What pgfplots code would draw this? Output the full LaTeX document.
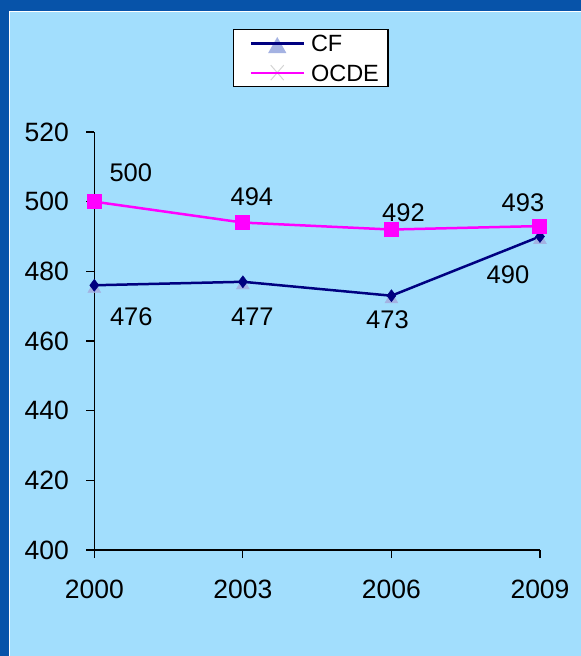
\documentclass[border=0pt]{standalone}
\usepackage{fontspec}
\setmainfont{Liberation Sans}
\usepackage{pgfplots}
\pgfplotsset{compat=1.18}
\definecolor{bgdark}{HTML}{0753A9}
\definecolor{panel}{HTML}{A2DEFD}
\definecolor{cfnavy}{HTML}{000080}
\definecolor{ocdemag}{HTML}{FF00FF}
\definecolor{trilight}{HTML}{A4B2E2}
\definecolor{xgrey}{HTML}{D4D4D4}
\begin{document}
\begin{tikzpicture}
\useasboundingbox (0,0) rectangle (581pt,-656pt);
\fill[bgdark] (0,0) rectangle (581pt,-656pt);
\fill[panel] (9pt,-11pt) rectangle (581pt,-656pt);
\draw[white, line width=0.8pt] (9pt,-656pt) -- (9pt,-11pt) -- (581pt,-11pt);
\begin{axis}[
  at={(94.3pt,-550pt)}, anchor=south west,
  scale only axis, width=445.7pt, height=418pt,
  xmin=2000, xmax=2009, ymin=400, ymax=520,
  axis lines=left,
  axis line style={-, line width=1.2pt, black},
  xtick={2000,2003,2006,2009},
  ytick={400,420,440,460,480,500,520},
  tick align=outside, major tick length=8pt,
  tick style={line width=1.2pt, black},
  clip=false,
  /pgf/number format/assume math mode=true,
  /pgf/number format/set thousands separator={},
  tick label style={font=\fontsize{26.5}{30}\selectfont, inner sep=0pt},
  yticklabel style={anchor=east, xshift=-17.3pt},
  xticklabel style={anchor=north, yshift=-22pt},
  legend style={at={(0.311,1.2464)}, anchor=north west,
    draw=black, line width=1.2pt, fill=white,
    inner xsep=9pt, inner ysep=5.5pt,
    font=\fontsize{23.5}{28}\selectfont,
    nodes={inner sep=0pt, text height=16.8pt, text depth=0pt},
    row sep=11.2pt},
  legend cell align=left,
]
% light triangles behind CF diamonds
\addplot[only marks, mark=triangle*, mark size=7.5pt, color=trilight,
  mark options={yshift=-3.5pt}, forget plot]
  coordinates {(2000,476) (2003,477) (2006,473) (2009,490)};
\addplot[cfnavy, line width=2.5pt, mark=diamond*, mark size=6pt,
  mark options={solid, fill=cfnavy, line width=0.5pt},
  legend image code/.code={
    \path (-7pt,0pt) (59pt,0pt);
    \fill[trilight] (26.5pt,4pt) -- (19.5pt,-8.3pt) -- (33.5pt,-8.3pt) -- cycle;
    \draw[cfnavy, line width=2.2pt] (0pt,0pt) -- (53pt,0pt);
  }]
  coordinates {(2000,476) (2003,477) (2006,473) (2009,490)};
\addlegendentry{CF}
\addplot[ocdemag, line width=2.5pt, mark=square*, mark size=7pt,
  mark options={solid, fill=ocdemag, line width=0pt},
  legend image code/.code={
    \path (-7pt,0pt) (59pt,0pt);
    \draw[xgrey, line width=1pt] (20pt,-7.5pt) -- (33pt,7.5pt) (20pt,7.5pt) -- (33pt,-7.5pt);
    \draw[ocdemag, line width=2pt] (0pt,0pt) -- (53pt,0pt);
  }]
  coordinates {(2000,500) (2003,494) (2006,492) (2009,493)};
\addlegendentry{OCDE}
% data labels
\begin{scope}[every node/.style={font=\fontsize{25.5}{30}\selectfont, inner sep=0pt}]
\node at ([shift={(36.5pt,28.7pt)}]axis cs:2000,500) {500};
\node at ([shift={(9pt,25.7pt)}]axis cs:2003,494) {494};
\node at ([shift={(12pt,17pt)}]axis cs:2006,492) {492};
\node at ([shift={(-17pt,23pt)}]axis cs:2009,493) {493};
\node at ([shift={(37pt,-31.3pt)}]axis cs:2000,476) {476};
\node at ([shift={(9.5pt,-35pt)}]axis cs:2003,477) {477};
\node at ([shift={(-4pt,-24pt)}]axis cs:2006,473) {473};
\node at ([shift={(-32pt,-38pt)}]axis cs:2009,490) {490};
\end{scope}
\end{axis}
\end{tikzpicture}
\end{document}
